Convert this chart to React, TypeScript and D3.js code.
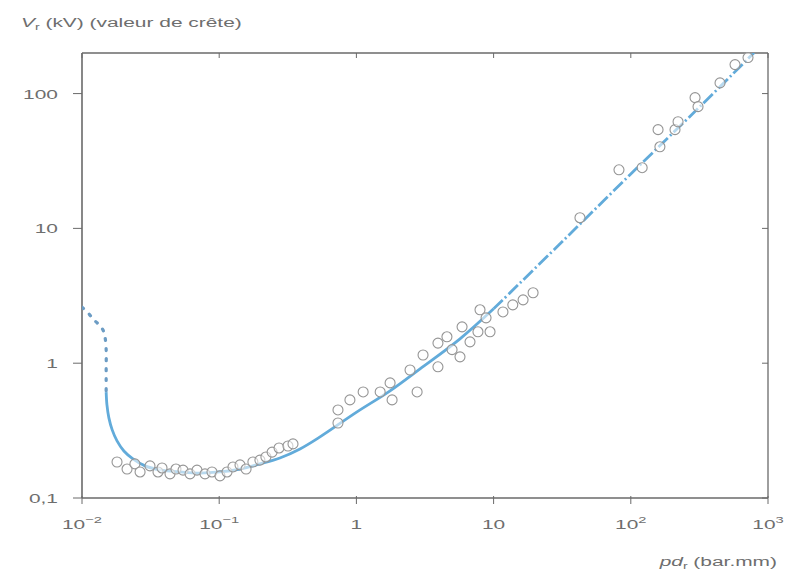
import React from "react";
import * as d3 from "d3";

// Paschen-type breakdown voltage curve (log-log)
const xTickValues = [0.01, 0.1, 1, 10, 100, 1000];
const xTickBase = ["10", "10", "1", "10", "10", "10"];
const xTickExp = ["\u22122", "\u22121", "", "", "2", "3"];
const yTickValues = [0.1, 1, 10, 100];
const yTickLabels = ["0,1", "1", "10", "100"];

// left branch, drawn dotted
const dottedX = [0.01, 0.0111, 0.012, 0.0131, 0.0142, 0.0147, 0.015, 0.015, 0.015, 0.015];
const dottedY = [2.6, 2.36, 2.13, 1.96, 1.77, 1.57, 1.26, 0.94, 0.75, 0.61];

// main solid branch
const solidX = [0.015, 0.0152, 0.0157, 0.0166, 0.018, 0.0202, 0.0235, 0.0288, 0.037, 0.0518, 0.0724, 0.101, 0.142, 0.198, 0.277, 0.388, 0.543, 1.01, 1.76, 2.91, 5.69, 10];
const solidY = [0.61, 0.49, 0.393, 0.32, 0.265, 0.223, 0.195, 0.173, 0.1615, 0.156, 0.153, 0.156, 0.164, 0.179, 0.198, 0.231, 0.284, 0.435, 0.623, 0.907, 1.515, 2.53];

// high pd branch, drawn dash-dot
const dashedX = [10, 30.5, 98.7, 319, 791];
const dashedY = [2.53, 7.69, 25.0, 80, 201];

// measured points
const pointsX = [
  0.018, 0.0213, 0.0243, 0.0265, 0.0313, 0.0358, 0.0383, 0.0438, 0.0484, 0.0545, 0.0613, 0.0689, 0.0788,
  0.0886, 0.1013, 0.114, 0.126, 0.1418, 0.157, 0.176, 0.198, 0.219, 0.243, 0.273, 0.317, 0.345,
  0.734, 0.734, 0.897, 1.12, 1.49, 1.76, 1.82, 2.46, 2.77, 3.06, 3.93, 3.93, 4.57, 4.98, 5.69, 5.89,
  6.73, 7.69, 7.96, 8.81, 9.42, 11.7, 13.8, 16.4, 19.4,
  42.6, 82, 121, 158, 163, 210, 221, 294, 309, 447, 575, 715,
];
const pointsY = [
  0.185, 0.164, 0.179, 0.156, 0.173, 0.156, 0.167, 0.151, 0.164, 0.161, 0.151, 0.161, 0.151,
  0.156, 0.146, 0.156, 0.17, 0.176, 0.164, 0.185, 0.191, 0.2016, 0.219, 0.235, 0.243, 0.252,
  0.45, 0.36, 0.534, 0.612, 0.612, 0.714, 0.534, 0.89, 0.612, 1.15, 1.41, 0.94, 1.57, 1.26, 1.114, 1.86,
  1.44, 1.71, 2.49, 2.17, 1.71, 2.4, 2.71, 2.95, 3.33,
  12.0, 27.2, 28.2, 54, 40.3, 54, 61.8, 93.3, 80, 120, 164, 185,
];

const W = 791;
const H = 575;
const left = 82;
const right = 768;
const top = 53;
const bottom = 498;
const textColor = "#6e6e6e";
const axisColor = "#6a6a6a";
const lineColor = "#62abda";
const font = "'Liberation Sans', Arial, sans-serif";
const stretch = 1.55;

export default function App() {
  const x = d3.scaleLog().domain([0.01, 1000]).range([left, right]);
  const y = d3.scaleLog().domain([0.1, 200]).range([bottom, top]);

  const line = d3
    .line<[number, number]>()
    .x((d) => x(d[0]))
    .y((d) => y(d[1]))
    .curve(d3.curveCatmullRom.alpha(0.5));

  const zip = (xs: number[], ys: number[]) => xs.map((v, i) => [v, ys[i]] as [number, number]);

  const stretchedText = (
    tx: number,
    ty: number,
    anchor: "start" | "middle" | "end",
    children: React.ReactNode,
    key?: string | number,
    size = 13.5
  ) => (
    <g key={key} transform={`translate(${tx},${ty}) scale(${stretch},1)`}>
      <text x={0} y={0} textAnchor={anchor} fontSize={size} fill={textColor} fontFamily={font}>
        {children}
      </text>
    </g>
  );

  return (
    <svg
      width={W}
      height={H}
      style={{ position: "fixed", left: 0, top: 0, background: "#fff" }}
    >
      <defs>
        <clipPath id="plot-clip">
          <rect x={left} y={top} width={right - left} height={bottom - top} />
        </clipPath>
      </defs>
      <rect width={W} height={H} fill="#fff" />

      {/* frame */}
      <line x1={left} x2={right} y1={top} y2={top} stroke={axisColor} strokeWidth={1.3} />
      <line x1={right} x2={right} y1={top} y2={bottom} stroke={axisColor} strokeWidth={1.3} />
      <line x1={left} x2={left} y1={top} y2={bottom} stroke={axisColor} strokeWidth={1.6} />
      <line x1={left} x2={right} y1={bottom} y2={bottom} stroke={axisColor} strokeWidth={1.6} />

      {/* x ticks */}
      {xTickValues.map((v, i) => (
        <g key={"xt" + i}>
          <line x1={x(v)} x2={x(v)} y1={bottom - 2} y2={bottom + 6} stroke={axisColor} strokeWidth={1} />
          <line x1={x(v)} x2={x(v)} y1={top} y2={top + 5} stroke={axisColor} strokeWidth={1} />
          {stretchedText(
            x(v),
            529,
            "middle",
            <>
              {xTickBase[i]}
              {xTickExp[i] && (
                <tspan fontSize={9.5} dy={-6}>
                  {xTickExp[i]}
                </tspan>
              )}
            </>
          )}
        </g>
      ))}

      {/* y ticks */}
      {yTickValues.map((v, i) => (
        <g key={"yt" + i}>
          <line x1={left - 9} x2={left} y1={y(v)} y2={y(v)} stroke={axisColor} strokeWidth={1} />
          <line x1={right - 6} x2={right} y1={y(v)} y2={y(v)} stroke={axisColor} strokeWidth={1} />
          {stretchedText(58, y(v) + 5, "end", yTickLabels[i])}
        </g>
      ))}

      {/* curve */}
      <g clipPath="url(#plot-clip)" fill="none">
        <path
          d={line(zip(dottedX, dottedY)) || ""}
          stroke="#6c9cc4"
          strokeWidth={3.2}
          strokeDasharray="2 8"
          strokeLinecap="round"
        />
        <path d={line(zip(solidX, solidY)) || ""} stroke={lineColor} strokeWidth={2.8} />
        <path
          d={line(zip(dashedX, dashedY)) || ""}
          stroke={lineColor}
          strokeWidth={2.8}
          strokeDasharray="13 3 2 3"
        />
      </g>

      {/* measured points */}
      <g>
        {pointsX.map((v, i) => (
          <circle
            key={"p" + i}
            cx={x(v)}
            cy={y(pointsY[i])}
            r={5}
            fill="rgba(255,255,255,0.55)"
            stroke="#959595"
            strokeWidth={1.1}
          />
        ))}
      </g>

      {/* axis titles */}
      {stretchedText(
        21,
        27,
        "start",
        <>
          <tspan fontStyle="italic">V</tspan>
          <tspan fontSize={9} dy={3}>r</tspan>
          <tspan dy={-3}> (kV) (valeur de crête)</tspan>
        </>,
        "yt"
      )}
      {stretchedText(
        777,
        566,
        "end",
        <>
          <tspan fontStyle="italic">pd</tspan>
          <tspan fontSize={9} dy={3}>r</tspan>
          <tspan dy={-3}> (bar.mm)</tspan>
        </>,
        "xt"
      )}
    </svg>
  );
}
